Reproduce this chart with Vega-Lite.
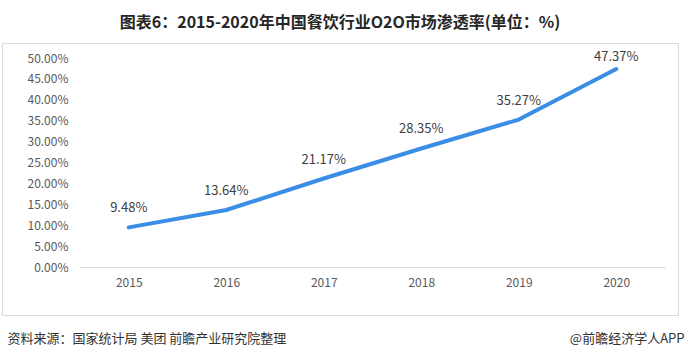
{
  "$schema": "https://vega.github.io/schema/vega-lite/v6.json",
  "autosize": {"type": "none"},
  "width": 676,
  "height": 272,
  "padding": {"left": 2, "top": 43, "right": 9, "bottom": 45},
  "background": "white",
  "config": {
    "font": "Noto Sans CJK SC",
    "view": {"stroke": "#d9d9d9", "strokeWidth": 1}
  },
  "title": {
    "text": "图表6：2015-2020年中国餐饮行业O2O市场渗透率(单位：%)",
    "anchor": "middle",
    "fontSize": 16,
    "fontWeight": "bold",
    "color": "#262626",
    "offset": 12
  },
  "data": {
    "values": [
      {"year": "2015", "rate": 0.0948},
      {"year": "2016", "rate": 0.1364},
      {"year": "2017", "rate": 0.2117},
      {"year": "2018", "rate": 0.2835},
      {"year": "2019", "rate": 0.3527},
      {"year": "2020", "rate": 0.4737}
    ]
  },
  "encoding": {
    "x": {
      "field": "year",
      "type": "ordinal",
      "scale": {"type": "point", "range": [78, 663]},
      "axis": {
        "offset": -48,
        "labelAngle": 0,
        "domainColor": "#d9d9d9",
        "domainWidth": 1,
        "ticks": false,
        "labelPadding": 10,
        "labelFontSize": 12,
        "labelColor": "#595959",
        "title": "@前瞻经济学人APP",
        "titleX": 682,
        "titleY": 71,
        "titleAlign": "right",
        "titleBaseline": "middle",
        "titleFontSize": 13,
        "titleFontWeight": "normal",
        "titleColor": "#333333"
      }
    },
    "y": {
      "field": "rate",
      "type": "quantitative",
      "scale": {"domain": [0, 0.5], "range": [224, 15], "nice": false, "zero": true},
      "axis": {
        "values": [0, 0.05, 0.1, 0.15, 0.2, 0.25, 0.3, 0.35, 0.4, 0.45, 0.5],
        "format": ".2%",
        "grid": false,
        "domain": false,
        "ticks": false,
        "labelPadding": -66,
        "labelFontSize": 12,
        "labelColor": "#595959",
        "title": "资料来源：国家统计局 美团 前瞻产业研究院整理",
        "titleAngle": 0,
        "titleX": 5,
        "titleY": 295,
        "titleAlign": "left",
        "titleBaseline": "middle",
        "titleFontSize": 13,
        "titleFontWeight": "normal",
        "titleColor": "#333333"
      }
    }
  },
  "layer": [
    {
      "mark": {"type": "line", "color": "#3b8ee5", "strokeWidth": 4, "strokeCap": "round", "strokeJoin": "round"}
    },
    {
      "transform": [{"filter": "datum.year !== '2020'"}],
      "mark": {"type": "text", "fontSize": 13, "color": "#404040", "dy": -19},
      "encoding": {
        "text": {"field": "rate", "type": "quantitative", "format": ".2%"}
      }
    },
    {
      "transform": [{"filter": "datum.year === '2020'"}],
      "mark": {"type": "text", "fontSize": 13, "color": "#404040", "dy": -12},
      "encoding": {
        "text": {"field": "rate", "type": "quantitative", "format": ".2%"}
      }
    }
  ]
}
